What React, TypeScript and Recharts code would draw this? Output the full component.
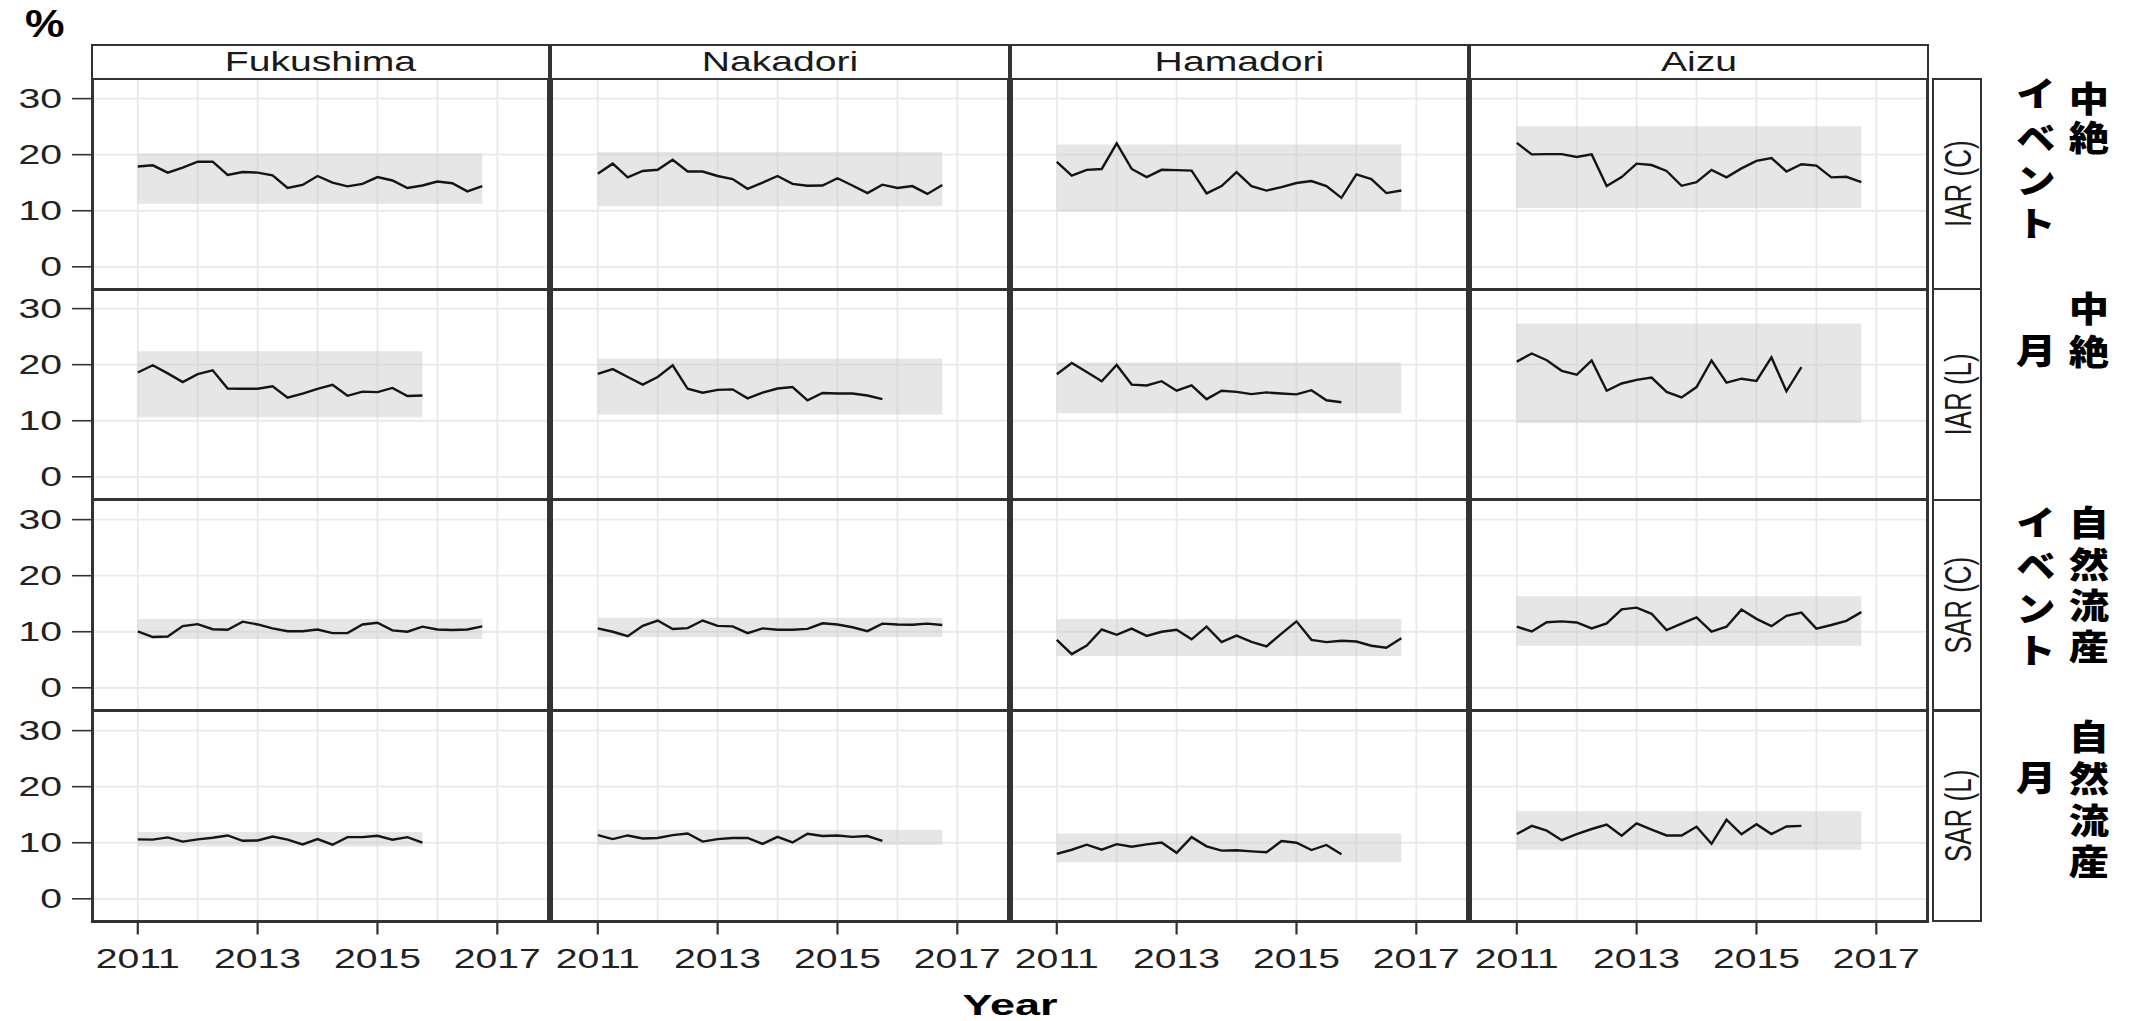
import React from 'react';
import { LineChart, Line, XAxis, YAxis, CartesianGrid, ReferenceArea } from 'recharts';

// ---------- categories & labels ----------
const REGIONS = ['Fukushima', 'Nakadori', 'Hamadori', 'Aizu'];
const MEASURES = ['IAR (C)', 'IAR (L)', 'SAR (C)', 'SAR (L)'];
const JP_LEFT = ['イベント', '月', 'イベント', '月'];
const JP_RIGHT = ['中絶', '中絶', '自然流産', '自然流産'];
const X_TICKS = [2011, 2012, 2013, 2014, 2015, 2016, 2017];
const X_LABELED = [2011, 2013, 2015, 2017];
const Y_TICKS = [0, 10, 20, 30];
const QUARTERS = [
  2011, 2011.25, 2011.5, 2011.75, 2012, 2012.25, 2012.5, 2012.75,
  2013, 2013.25, 2013.5, 2013.75, 2014, 2014.25, 2014.5, 2014.75,
  2015, 2015.25, 2015.5, 2015.75, 2016, 2016.25, 2016.5, 2016.75,
];

// ---------- IAR (C) ----------
const IAR_C_FUKUSHIMA = [17.9, 18.1, 16.8, 17.7, 18.75, 18.75, 16.4, 16.9, 16.8, 16.3, 14.05, 14.6, 16.2, 15.0, 14.35, 14.8, 16.0, 15.4, 14.05, 14.5, 15.2, 14.9, 13.45, 14.4];
const IAR_C_NAKADORI = [16.6, 18.4, 15.95, 17.1, 17.3, 19.1, 17.0, 17.0, 16.2, 15.65, 13.9, 15.0, 16.2, 14.8, 14.45, 14.5, 15.8, 14.5, 13.15, 14.65, 14.05, 14.4, 13.0, 14.6];
const IAR_C_HAMADORI = [18.7, 16.25, 17.3, 17.45, 22.0, 17.45, 16.0, 17.3, 17.25, 17.15, 13.1, 14.4, 16.9, 14.4, 13.6, 14.2, 14.95, 15.3, 14.4, 12.3, 16.5, 15.65, 13.15, 13.6];
const IAR_C_AIZU = [22.1, 20.05, 20.1, 20.1, 19.6, 20.05, 14.4, 16.0, 18.4, 18.15, 17.1, 14.45, 15.1, 17.3, 15.95, 17.55, 18.9, 19.4, 17.0, 18.3, 18.05, 15.95, 16.05, 15.1];
const IAR_C_BAND_LOW = [11.25, 10.8, 9.9, 10.5];
const IAR_C_BAND_HIGH = [20.2, 20.5, 21.8, 25.05];
const IAR_C_BAND_END = [2016.75, 2016.75, 2016.75, 2016.75];

// ---------- IAR (L) ----------
const IAR_L_FUKUSHIMA = [18.6, 19.9, 18.45, 16.9, 18.3, 19.0, 15.75, 15.7, 15.7, 16.15, 14.1, 14.85, 15.7, 16.4, 14.45, 15.2, 15.1, 15.85, 14.4, 14.5];
const IAR_L_NAKADORI = [18.35, 19.2, 17.8, 16.45, 17.8, 19.9, 15.7, 15.0, 15.5, 15.6, 14.0, 15.0, 15.75, 16.0, 13.65, 14.95, 14.85, 14.85, 14.5, 13.85];
const IAR_L_HAMADORI = [18.3, 20.3, 18.7, 17.05, 19.95, 16.45, 16.3, 17.05, 15.35, 16.3, 13.85, 15.35, 15.15, 14.75, 15.05, 14.85, 14.7, 15.45, 13.65, 13.3];
const IAR_L_AIZU = [20.55, 22.0, 20.8, 18.9, 18.2, 20.75, 15.35, 16.65, 17.3, 17.7, 15.15, 14.15, 16.0, 20.75, 16.8, 17.5, 17.1, 21.3, 15.25, 19.55];
const IAR_L_BAND_LOW = [10.6, 11.1, 11.35, 9.6];
const IAR_L_BAND_HIGH = [22.4, 21.05, 20.4, 27.35];
const IAR_L_BAND_END = [2015.75, 2016.75, 2016.75, 2016.75];

// ---------- SAR (C) ----------
const SAR_C_FUKUSHIMA = [10.05, 9.05, 9.15, 11.0, 11.35, 10.45, 10.35, 11.8, 11.3, 10.6, 10.1, 10.1, 10.4, 9.75, 9.75, 11.3, 11.6, 10.25, 10.0, 10.9, 10.4, 10.3, 10.4, 10.95];
const SAR_C_NAKADORI = [10.6, 10.0, 9.2, 11.05, 12.0, 10.5, 10.65, 12.0, 11.05, 10.95, 9.75, 10.6, 10.35, 10.35, 10.5, 11.5, 11.3, 10.8, 10.1, 11.45, 11.3, 11.25, 11.45, 11.2];
const SAR_C_HAMADORI = [8.55, 6.0, 7.55, 10.4, 9.45, 10.55, 9.25, 10.0, 10.35, 8.65, 10.9, 8.15, 9.3, 8.2, 7.4, 9.65, 11.85, 8.55, 8.15, 8.4, 8.25, 7.5, 7.15, 8.85];
const SAR_C_AIZU = [10.9, 10.05, 11.7, 11.85, 11.65, 10.6, 11.5, 14.0, 14.3, 13.2, 10.3, 11.45, 12.55, 10.0, 10.9, 13.95, 12.3, 11.0, 12.85, 13.4, 10.55, 11.2, 11.95, 13.5];
const SAR_C_BAND_LOW = [8.7, 9.05, 5.65, 7.5];
const SAR_C_BAND_HIGH = [12.25, 12.5, 12.25, 16.35];
const SAR_C_BAND_END = [2016.75, 2016.75, 2016.75, 2016.75];

// ---------- SAR (L) ----------
const SAR_L_FUKUSHIMA = [10.6, 10.55, 10.95, 10.2, 10.6, 10.9, 11.3, 10.35, 10.4, 11.1, 10.55, 9.7, 10.65, 9.65, 11.0, 11.0, 11.25, 10.55, 11.0, 10.0];
const SAR_L_NAKADORI = [11.35, 10.65, 11.3, 10.75, 10.85, 11.35, 11.65, 10.2, 10.65, 10.85, 10.85, 9.8, 11.05, 10.05, 11.6, 11.2, 11.3, 11.05, 11.2, 10.35];
const SAR_L_HAMADORI = [8.0, 8.75, 9.65, 8.75, 9.75, 9.3, 9.7, 10.05, 8.2, 11.0, 9.35, 8.6, 8.65, 8.45, 8.3, 10.3, 10.0, 8.7, 9.6, 7.95];
const SAR_L_AIZU = [11.55, 13.0, 12.15, 10.45, 11.55, 12.45, 13.25, 11.25, 13.45, 12.35, 11.3, 11.3, 12.85, 9.8, 14.1, 11.5, 13.3, 11.55, 12.9, 13.0];
const SAR_L_BAND_LOW = [9.35, 9.65, 6.5, 8.75];
const SAR_L_BAND_HIGH = [11.9, 12.3, 11.65, 15.6];
const SAR_L_BAND_END = [2015.75, 2016.75, 2016.75, 2016.75];

const SERIES = [
  [IAR_C_FUKUSHIMA, IAR_C_NAKADORI, IAR_C_HAMADORI, IAR_C_AIZU],
  [IAR_L_FUKUSHIMA, IAR_L_NAKADORI, IAR_L_HAMADORI, IAR_L_AIZU],
  [SAR_C_FUKUSHIMA, SAR_C_NAKADORI, SAR_C_HAMADORI, SAR_C_AIZU],
  [SAR_L_FUKUSHIMA, SAR_L_NAKADORI, SAR_L_HAMADORI, SAR_L_AIZU],
];
const BAND_LOW = [IAR_C_BAND_LOW, IAR_L_BAND_LOW, SAR_C_BAND_LOW, SAR_L_BAND_LOW];
const BAND_HIGH = [IAR_C_BAND_HIGH, IAR_L_BAND_HIGH, SAR_C_BAND_HIGH, SAR_L_BAND_HIGH];
const BAND_END = [IAR_C_BAND_END, IAR_L_BAND_END, SAR_C_BAND_END, SAR_L_BAND_END];
const BAND_START = 2011;

// ---------- layout ----------
const X_DOMAIN: [number, number] = [2010.236, 2017.851];
const Y_DOMAIN: [number, number] = [-4.05, 33.5];
const PX0 = 92.3;
const PY0 = 78.5;
const PITCHX = 459.5;
const PITCHY = 210.7;
const PW = 456.3;
const PH = 210.5;
const AXW = 92;
const AXH = 100;
const SX = 1.45;
const FONT = "'Liberation Sans', Arial, Helvetica, sans-serif";
const JP_FONT = "'Noto Sans CJK JP', 'Noto Sans CJK SC', sans-serif";
const BORDER = '#333333';
const JP_SIZE = 35;

// vertical Japanese annotations: top of first em box and character pitch
const JP_LEFT_TOP = [76.5, 333.5, 505.5, 760.5];
const JP_LEFT_PITCH = [43.3, 43, 42.7, 43];
const JP_RIGHT_TOP = [81.5, 290.8, 505.5, 719.5];
const JP_RIGHT_PITCH = [38.3, 43.4, 41.3, 41.7];
const JP_LEFT_X = 2036;
const JP_RIGHT_X = 2089;

function makeXTick(show: boolean) {
  return (props: any) => {
    const { x, y, payload } = props;
    if (!show || X_LABELED.indexOf(payload.value) < 0) return <g />;
    return (
      <g>
        <line x1={x} x2={x} y1={y} y2={y + 13} stroke={BORDER} strokeWidth={2.2} />
        <text
          x={x}
          y={y + 47}
          textAnchor="middle"
          fontSize={27}
          fontFamily={FONT}
          fill="#222"
          transform={`translate(${x} 0) scale(${SX} 1) translate(${-x} 0)`}
        >
          {payload.value}
        </text>
      </g>
    );
  };
}

function makeYTick(show: boolean) {
  return (props: any) => {
    const { x, y, payload } = props;
    if (!show) return <g />;
    const tx = x - 30;
    return (
      <g>
        <line x1={x - 20} x2={x} y1={y} y2={y} stroke={BORDER} strokeWidth={1.6} />
        <text
          x={tx}
          y={y + 9.5}
          textAnchor="end"
          fontSize={27}
          fontFamily={FONT}
          fill="#222"
          transform={`translate(${tx} 0) scale(${SX} 1) translate(${-tx} 0)`}
        >
          {payload.value}
        </text>
      </g>
    );
  };
}

function Panel({ r, c }: { r: number; c: number }) {
  const values = SERIES[r][c];
  const data = values.map((v, i) => ({ t: QUARTERS[i], v }));
  const x0 = PX0 + c * PITCHX;
  const y0 = PY0 + r * PITCHY;
  return (
    <div style={{ position: 'absolute', left: x0 - AXW, top: y0 }}>
      <LineChart width={PW + AXW} height={PH + AXH} data={data} margin={{ top: 0, right: 0, bottom: 0, left: 0 }}>
        <CartesianGrid stroke="#e9e9e9" strokeWidth={1.8} />
        <XAxis
          dataKey="t"
          type="number"
          domain={X_DOMAIN}
          ticks={X_TICKS}
          interval={0}
          allowDataOverflow
          height={AXH}
          axisLine={false}
          tickLine={false}
          tickSize={0}
          tickMargin={0}
          tick={makeXTick(r === 3)}
        />
        <YAxis
          type="number"
          domain={Y_DOMAIN}
          ticks={Y_TICKS}
          interval={0}
          allowDataOverflow
          width={AXW}
          axisLine={false}
          tickLine={false}
          tickSize={0}
          tickMargin={0}
          tick={makeYTick(c === 0)}
        />
        <ReferenceArea
          x1={BAND_START}
          x2={BAND_END[r][c]}
          y1={BAND_LOW[r][c]}
          y2={BAND_HIGH[r][c]}
          fill="#c8c8c8"
          fillOpacity={0.45}
          stroke="none"
        />
        <Line dataKey="v" type="linear" stroke="#141414" strokeWidth={2.4} dot={false} isAnimationActive={false} />
      </LineChart>
    </div>
  );
}

function JpColumn({ text, x, top, pitch, k }: { text: string; x: number; top: number; pitch: number; k: string }) {
  return (
    <text
      key={k}
      x={x}
      y={top}
      fontSize={JP_SIZE}
      fontWeight={900}
      fontFamily={JP_FONT}
      fill="#000"
      letterSpacing={pitch - JP_SIZE}
      style={{ writingMode: 'vertical-rl' } as any}
      transform={`translate(${x} 0) scale(1.15 1) translate(${-x} 0)`}
    >
      {text}
    </text>
  );
}

export default function App() {
  const rows = [0, 1, 2, 3];
  const cols = [0, 1, 2, 3];
  return (
    <div style={{ position: 'absolute', left: 0, top: 0, width: 2136, height: 1021, background: '#fff', overflow: 'hidden' }}>
      {rows.map((r) => cols.map((c) => <Panel key={`${r}-${c}`} r={r} c={c} />))}
      {/* panel borders */}
      {rows.map((r) =>
        cols.map((c) => (
          <div
            key={`b${r}-${c}`}
            style={{
              position: 'absolute',
              left: PX0 + c * PITCHX - 1.5,
              top: PY0 + r * PITCHY - 1.5,
              width: PW + 3,
              height: PH + 3,
              border: `3px solid ${BORDER}`,
              boxSizing: 'border-box',
            }}
          />
        ))
      )}
      {/* top strips */}
      {cols.map((c) => (
        <div
          key={`s${c}`}
          style={{
            position: 'absolute',
            left: PX0 + c * PITCHX - 1.5,
            top: 44,
            width: PW + 3,
            height: PY0 - 44 + 1,
            border: `2.5px solid ${BORDER}`,
            boxSizing: 'border-box',
            background: '#fff',
          }}
        />
      ))}
      {/* right strips */}
      {rows.map((r) => (
        <div
          key={`rs${r}`}
          style={{
            position: 'absolute',
            left: 1932,
            top: PY0 + r * PITCHY - 1,
            width: 50,
            height: PH + 2,
            border: `2.5px solid ${BORDER}`,
            boxSizing: 'border-box',
            background: '#fff',
          }}
        />
      ))}
      <svg width={2136} height={1021} style={{ position: 'absolute', left: 0, top: 0 }}>
        {cols.map((c) => {
          const cx = PX0 + c * PITCHX + PW / 2;
          return (
            <text
              key={`st${c}`}
              x={cx}
              y={71.5}
              textAnchor="middle"
              fontSize={27}
              fontFamily={FONT}
              fill="#1a1a1a"
              transform={`translate(${cx} 0) scale(${SX} 1) translate(${-cx} 0)`}
            >
              {REGIONS[c]}
            </text>
          );
        })}
        {rows.map((r) => {
          const cy = PY0 + r * PITCHY + PH / 2;
          return (
            <text
              key={`rt${r}`}
              textAnchor="middle"
              fontSize={26}
              fontFamily={FONT}
              fill="#1a1a1a"
              dy="0.36em"
              transform={`translate(1957 ${cy}) rotate(-90) scale(1 ${SX})`}
            >
              {MEASURES[r]}
            </text>
          );
        })}
        {rows.map((r) => (
          <JpColumn key={`jl${r}`} k={`jl${r}`} text={JP_LEFT[r]} x={JP_LEFT_X} top={JP_LEFT_TOP[r]} pitch={JP_LEFT_PITCH[r]} />
        ))}
        {rows.map((r) => (
          <JpColumn key={`jr${r}`} k={`jr${r}`} text={JP_RIGHT[r]} x={JP_RIGHT_X} top={JP_RIGHT_TOP[r]} pitch={JP_RIGHT_PITCH[r]} />
        ))}
        <text
          x={25}
          y={37}
          fontSize={39}
          fontWeight={700}
          fontFamily={FONT}
          fill="#000"
          transform={`translate(25 0) scale(1.14 1) translate(-25 0)`}
        >
          %
        </text>
        <text
          x={1010}
          y={1015}
          textAnchor="middle"
          fontSize={30}
          fontWeight={700}
          fontFamily={FONT}
          fill="#000"
          transform={`translate(1010 0) scale(1.5 1) translate(-1010 0)`}
        >
          Year
        </text>
      </svg>
    </div>
  );
}
